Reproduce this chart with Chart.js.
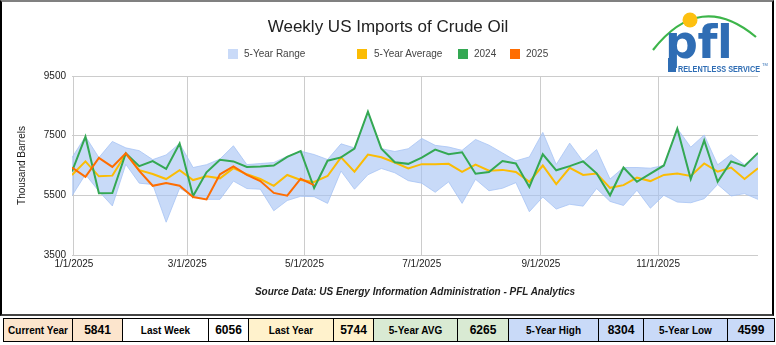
<!DOCTYPE html>
<html><head><meta charset="utf-8">
<script src="https://cdn.jsdelivr.net/npm/chart.js@4/dist/chart.umd.min.js"></script>
<style>
html,body{margin:0;padding:0;background:#fff;}
#wrap{position:relative;width:776px;height:345px;overflow:hidden;font-family:'Liberation Sans',Arial,sans-serif;}
#frame{position:absolute;left:0;top:0;width:770px;height:312px;border-left:2px solid #000;border-right:2px solid #000;border-top:2px solid #808080;border-bottom:2px solid #444;}
#chart{position:absolute;left:0;top:0;}
#title{position:absolute;left:0;width:776px;top:17px;line-height:20px;text-align:center;font-size:17px;color:#222;}
.lg{position:absolute;top:48px;font-size:10px;line-height:12px;color:#444;white-space:nowrap;}
.sw{position:absolute;top:49px;width:10px;height:10px;}
#source{position:absolute;left:0;width:830px;top:286px;line-height:12px;text-align:center;font-size:10px;font-weight:bold;font-style:italic;color:#222;}
#tbl{position:absolute;left:3px;top:318px;border-collapse:collapse;table-layout:fixed;width:771px;height:24px;}
#tbl td{border:1px solid #000;padding:0;text-align:center;font-weight:bold;color:#000;height:22px;white-space:nowrap;overflow:hidden;}
#tbl td.l{font-size:10px;}
#tbl td.v{font-size:12px;}
#logo{position:absolute;left:640px;top:0;}
</style></head>
<body><div id="wrap">
<div id="frame"></div>
<canvas id="chart" width="776" height="316" style="width:776px;height:316px"></canvas>
<div id="title">Weekly US Imports of Crude Oil</div>
<div class="sw" style="left:228px;background:#c9daf8"></div><div class="lg" style="left:244px">5-Year Range</div>
<div class="sw" style="left:357px;background:#fbbc04"></div><div class="lg" style="left:374px">5-Year Average</div>
<div class="sw" style="left:458px;background:#34a853"></div><div class="lg" style="left:474px">2024</div>
<div class="sw" style="left:510px;background:#ff6d01"></div><div class="lg" style="left:526px">2025</div>
<div id="source">Source Data: US Energy Information Administration - PFL Analytics</div>
<svg id="logo" width="136" height="80" viewBox="0 0 136 80">
  <path d="M 13 50 Q 60 -10 116 37" stroke="#3db54a" stroke-width="2.2" fill="none"/>
  <text x="25" y="58" font-family="DejaVu Sans" font-weight="bold" font-size="46" letter-spacing="-0.5" fill="#2f6db4">pfl</text>
  <circle cx="50" cy="20" r="7.5" fill="#fdc010"/>
  <rect x="28" y="58" width="8" height="14" fill="#2f6db4"/>
  <text x="38" y="72" font-family="Liberation Sans Narrow, Liberation Sans" font-weight="bold" font-size="9.5" textLength="82" lengthAdjust="spacingAndGlyphs" fill="#2f6db4">RELENTLESS SERVICE</text>
  <text x="122" y="66" font-family="Liberation Sans" font-size="4" fill="#2f6db4">TM</text>
</svg>
<table id="tbl"><tr>
<td class="l" style="width:68px;background:#fce5cd">Current Year</td>
<td class="v" style="width:49px;background:#fce5cd">5841</td>
<td class="l" style="width:85px;background:#fff">Last Week</td>
<td class="v" style="width:39px;background:#fff">6056</td>
<td class="l" style="width:84px;background:#fff2cc">Last Year</td>
<td class="v" style="width:39px;background:#fff2cc">5744</td>
<td class="l" style="width:83px;background:#d9ead3">5-Year AVG</td>
<td class="v" style="width:50px;background:#d9ead3">6265</td>
<td class="l" style="width:89px;background:#c9daf8">5-Year High</td>
<td class="v" style="width:44px;background:#c9daf8">8304</td>
<td class="l" style="width:83px;background:#c9daf8">5-Year Low</td>
<td class="v" style="width:46px;background:#c9daf8">4599</td>
</tr></table>
</div>
<script>
// Week positions: days relative to 1/1/2025 (first week = 12/31/2024)
const weekDay = [-1,6,13,20,27,34,41,48,55,62,69,76,83,90,97,104,111,118,125,132,139,146,153,160,167,174,181,188,195,202,209,216,223,230,237,244,251,258,265,272,279,286,293,300,307,314,321,328,335,342,349,356];

const rangeHigh = [6765,7475,6765,7306,7091,6996,6697,6855,7239,6432,6527,6716,7160,6530,6566,6600,6810,6980,6868,6700,7226,7090,8304,7065,6969,7062,7408,7176,7120,7007,7373,7182,6922,6657,6787,7610,6533,7250,6637,7034,6046,6432,6432,6410,6501,7739,7114,7523,6523,6864,6523,6921];
const rangeLow = [5485,6200,5636,5146,6540,5908,5862,4599,5738,5478,5365,5365,5978,5728,5705,4983,5326,5467,5456,5230,6314,5704,6190,6400,6256,5992,5908,5603,5952,5230,6037,5654,5737,5925,4950,5445,5040,5200,5138,5728,5296,5160,5671,5069,5501,5274,5251,5387,5865,5478,5558,5365];
const avg5 = [6183,6637,6137,6160,6887,6342,6217,6046,6342,6012,6137,6069,6410,6205,6046,5819,6183,6012,5950,6148,6773,6295,6866,6776,6600,6404,6545,6540,6555,6290,6527,6325,6353,6280,5950,6500,5873,6420,6183,6228,5751,5842,6092,5978,6183,6228,6148,6569,6296,6432,6046,6410];
const y2024 = [6300,7466,5570,5580,6910,6478,6648,6387,7239,5478,6273,6694,6637,6450,6467,6500,6790,6980,5744,6660,6773,7069,8304,7065,6610,6555,6765,7035,6880,6945,6225,6280,6650,6567,5780,6877,6340,6478,6637,6239,5501,6432,5955,6228,6501,7739,6046,7341,5955,6637,6478,6921];
const y2025 = [6432,6122,6754,6455,6910,6319,5820,5910,5820,5444,5365,6205,6467,6183,5978,5580,5490,6056,5841];

const xTickDays = [0,59,120,181,243,304];
const xTickLabels = ['1/1/2025','3/1/2025','5/1/2025','7/1/2025','9/1/2025','11/1/2025'];
const yTicks = [3500,5500,7500,9500];

const pts = arr => arr.map((v,i) => ({x: weekDay[i], y: v}));
const tickFont = {family:'Liberation Sans', size:10};

new Chart(document.getElementById('chart'), {
  type: 'line',
  data: {
    datasets: [
      {label:'2025', data: pts(y2025), borderColor:'#ff6d01', borderWidth:2, fill:false},
      {label:'2024', data: pts(y2024), borderColor:'#34a853', borderWidth:2, fill:false},
      {label:'5-Year Average', data: pts(avg5), borderColor:'#fbbc04', borderWidth:2, fill:false},
      {label:'5-Year Range', data: pts(rangeHigh), borderColor:'rgba(164,194,244,0.75)', borderWidth:1, backgroundColor:'rgba(164,194,244,0.6)', fill:4},
      {label:'5-Year Range Low', data: pts(rangeLow), borderColor:'rgba(164,194,244,0.75)', borderWidth:1, fill:false}
    ]
  },
  options: {
    responsive:false, animation:false, devicePixelRatio:1,
    layout:{padding:{left:0,right:18,top:76,bottom:41}},
    plugins:{legend:{display:false}, tooltip:{enabled:false}, title:{display:false}},
    elements:{point:{radius:0, hoverRadius:0}, line:{tension:0, borderJoinStyle:'miter'}},
    scales:{
      x:{type:'linear', min:-1, max:356,
        afterBuildTicks: ax => { ax.ticks = xTickDays.map(v => ({value:v})); },
        afterFit: s => { s.height = 20; },
        ticks:{callback: v => xTickLabels[xTickDays.indexOf(v)], padding:3, font:tickFont, color:'#222', maxRotation:0, autoSkip:false},
        grid:{color:'#cccccc', drawTicks:false}, border:{display:false}},
      y:{min:3500, max:9500,
        afterBuildTicks: ax => { ax.ticks = yTicks.map(v => ({value:v})); },
        afterFit: s => { s.width = 72; },
        ticks:{callback: v => String(v), padding:6, font:tickFont, color:'#222'},
        grid:{color:'#cccccc', drawTicks:false}, border:{display:false},
        title:{display:true, text:'Thousand Barrels', font:{family:'Liberation Sans', size:10}, color:'#222', padding:{top:16,bottom:0}}}
    }
  }
});
</script>
</body></html>
